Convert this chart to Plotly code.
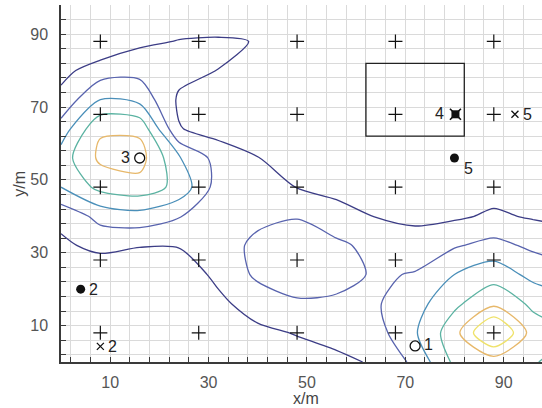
import plotly.graph_objects as go

# ---------------- data ----------------
X_NODES = [0, 8, 16, 24, 32, 40, 48, 56, 64, 72, 80, 88, 96, 104]
Y_NODES = [0, 8, 16, 24, 32, 40, 48, 56, 64, 72, 80, 88, 96]
# field values (rows follow Y_NODES, columns X_NODES)
Z_FIELD = [
    [0.3, 0.2, 0.2, 0.2, 0.4, 0.5, 0.6, 0.8, 1.1, 2.24, 4.2, 4.4, 4.1, 3.4],
    [0.3, 0.2, 0.2, 0.2, 0.5, 0.8, 1.05, 1.3, 1.6, 2.9, 4.6, 7.5, 4.5, 3.9],
    [0.4, 0.2, 0.2, 0.3, 0.8, 1.4, 1.9, 1.85, 1.9, 2.6, 3.8, 4.76, 3.8, 3.3],
    [0.5, 0.2, 0.3, 0.5, 1.2, 2.2, 2.4, 2.3, 1.9, 2.05, 3.0, 3.6, 2.7, 2.3],
    [0.8, 1.3, 1.05, 1.05, 1.4, 2.3, 2.45, 2.2, 1.7, 1.6, 1.9, 2.3, 1.8, 1.5],
    [1.3, 2.3, 2.6, 2.05, 1.5, 1.7, 1.95, 1.4, 0.97, 0.7, 0.85, 1.15, 0.9, 0.7],
    [3.0, 4.3, 4.6, 3.7, 1.55, 1.3, 0.98, 0.7, 0.6, 0.5, 0.5, 0.6, 0.6, 0.5],
    [3.5, 5.2, 5.4, 3.1, 1.6, 1.02, 0.6, 0.5, 0.5, 0.45, 0.4, 0.5, 0.5, 0.4],
    [2.4, 4.9, 4.8, 1.05, 0.6, 0.6, 0.5, 0.4, 0.4, 0.35, 0.3, 0.3, 0.3, 0.3],
    [1.3, 3.0, 2.7, 0.85, 0.6, 0.5, 0.4, 0.35, 0.35, 0.3, 0.3, 0.3, 0.3, 0.3],
    [0.7, 1.5, 1.7, 1.3, 0.99, 0.6, 0.4, 0.35, 0.3, 0.3, 0.3, 0.3, 0.3, 0.3],
    [0.4, 0.1, 0.8, 1.04, 1.1, 0.97, 0.4, 0.35, 0.3, 0.3, 0.3, 0.3, 0.3, 0.3],
    [0.3, 0.3, 0.4, 0.4, 0.4, 0.4, 0.3, 0.3, 0.3, 0.3, 0.3, 0.3, 0.3, 0.3],
]
LEVELS = [1, 2, 3, 4, 5, 6]

SENSOR_X = [8, 28, 48, 68, 88]
SENSOR_Y = [8, 28, 48, 68, 88]

FILLED_X = [4, 80]
FILLED_Y = [20, 56]
FILLED_LABELS = ["2", "5"]

OPEN_X = [16, 72]
OPEN_Y = [56, 4.4]
OPEN_LABELS = ["3", "1"]

CROSS_X = [8, 92.3]
CROSS_Y = [4.3, 68]
CROSS_LABELS = ["2", "5"]

SQUARE_X = [80.2]
SQUARE_Y = [68]
SQUARE_LABELS = ["4"]

BOX_X = [62, 82]
BOX_Y = [62, 82]

X_TICKS = [10, 30, 50, 70, 90]
Y_TICKS = [10, 30, 50, 70, 90]

# ---------------- styles ----------------
LEVEL_COLORS = ["#3c3d86", "#5863ae", "#4a8fb9", "#5bb3a2", "#e7b86a", "#efe26a"]
FONT = "Liberation Sans, Arial, sans-serif"
GRID = "#dadada"
AXIS = "#3a3a3a"
INK = "#111111"

fig = go.Figure()

for lev, col in zip(LEVELS, LEVEL_COLORS):
    fig.add_trace(go.Contour(
        x=X_NODES, y=Y_NODES, z=Z_FIELD,
        contours=dict(start=lev, end=lev, size=1, coloring="none"),
        line=dict(color=col, width=1.3, smoothing=0.8),
        showscale=False, hoverinfo="skip",
    ))

sx, sy = [], []
for yy in SENSOR_Y:
    for xx in SENSOR_X:
        sx.append(xx)
        sy.append(yy)
fig.add_trace(go.Scatter(x=sx, y=sy, mode="markers",
                         marker=dict(symbol="cross-thin", size=10, color=INK, line=dict(color=INK, width=1.2)),
                         hoverinfo="skip"))

fig.add_trace(go.Scatter(x=FILLED_X, y=FILLED_Y, mode="markers",
                         marker=dict(symbol="circle", size=9, color=INK), hoverinfo="skip"))
fig.add_trace(go.Scatter(x=OPEN_X, y=OPEN_Y, mode="markers",
                         marker=dict(symbol="circle-open", size=10, color=INK, line=dict(color=INK, width=1.3)),
                         hoverinfo="skip"))
fig.add_trace(go.Scatter(x=CROSS_X, y=CROSS_Y, mode="markers",
                         marker=dict(symbol="x-thin", size=7, color=INK, line=dict(color=INK, width=1.3)),
                         hoverinfo="skip"))
fig.add_trace(go.Scatter(x=SQUARE_X, y=SQUARE_Y, mode="markers",
                         marker=dict(symbol="square", size=8, color=INK), hoverinfo="skip"))
fig.add_trace(go.Scatter(x=SQUARE_X, y=SQUARE_Y, mode="markers",
                         marker=dict(symbol="x-thin", size=11, color=INK, line=dict(color=INK, width=1.6)),
                         hoverinfo="skip"))

fig.add_shape(type="rect", x0=BOX_X[0], x1=BOX_X[1], y0=BOX_Y[0], y1=BOX_Y[1],
              line=dict(color="#222", width=1.3))

ann = []
lab_font = dict(family=FONT, size=16, color="#222")
for xx, yy, t in zip(FILLED_X, FILLED_Y, FILLED_LABELS):
    if t == "5":
        ann.append(dict(x=xx, y=yy, text=t, showarrow=False, xanchor="left", xshift=8, yshift=-10, font=lab_font))
    else:
        ann.append(dict(x=xx, y=yy, text=t, showarrow=False, xanchor="left", xshift=6, font=lab_font))
for xx, yy, t in zip(OPEN_X, OPEN_Y, OPEN_LABELS):
    if t == "3":
        ann.append(dict(x=xx, y=yy, text=t, showarrow=False, xanchor="right", xshift=-8, yshift=1, font=lab_font))
    else:
        ann.append(dict(x=xx, y=yy, text=t, showarrow=False, xanchor="left", xshift=7, yshift=1, font=lab_font))
for xx, yy, t in zip(CROSS_X, CROSS_Y, CROSS_LABELS):
    ann.append(dict(x=xx, y=yy, text=t, showarrow=False, xanchor="left", xshift=6, font=lab_font))
for xx, yy, t in zip(SQUARE_X, SQUARE_Y, SQUARE_LABELS):
    ann.append(dict(x=xx, y=yy, text=t, showarrow=False, xanchor="right", xshift=-9, yshift=1, font=lab_font))

ann.append(dict(x=0.509, y=-0.101, xref="paper", yref="paper", text="x/m", showarrow=False,
                xanchor="center", yanchor="middle",
                font=dict(family=FONT, size=16, color="#444")))
ann.append(dict(x=-0.087, y=0.5, xref="paper", yref="paper", text="y/m", showarrow=False, textangle=-90,
                xanchor="center", yanchor="middle",
                font=dict(family=FONT, size=16, color="#444")))

axis_common = dict(
    ticks="inside", ticklen=5, tickcolor=AXIS, tickwidth=1,
    showline=True, linecolor=AXIS, linewidth=1.5,
    showgrid=True, gridcolor=GRID, gridwidth=1, zeroline=False,
    minor=dict(tick0=2, dtick=4, ticks="inside", ticklen=5, tickcolor=AXIS,
               showgrid=True, gridcolor=GRID, gridwidth=1),
    tickfont=dict(family=FONT, size=16, color="#555"),
)

fig.update_layout(
    width=542, height=408,
    margin=dict(l=61, r=0, t=5, b=46),
    paper_bgcolor="white", plot_bgcolor="white",
    showlegend=False,
    xaxis=dict(range=[0, 97.8], tickmode="array", tickvals=X_TICKS, ticklabelstandoff=5, **axis_common),
    yaxis=dict(range=[0, 98], tickmode="array", tickvals=Y_TICKS, ticklabelstandoff=8, **axis_common),
    annotations=ann,
)

fig.write_html("out.html")
